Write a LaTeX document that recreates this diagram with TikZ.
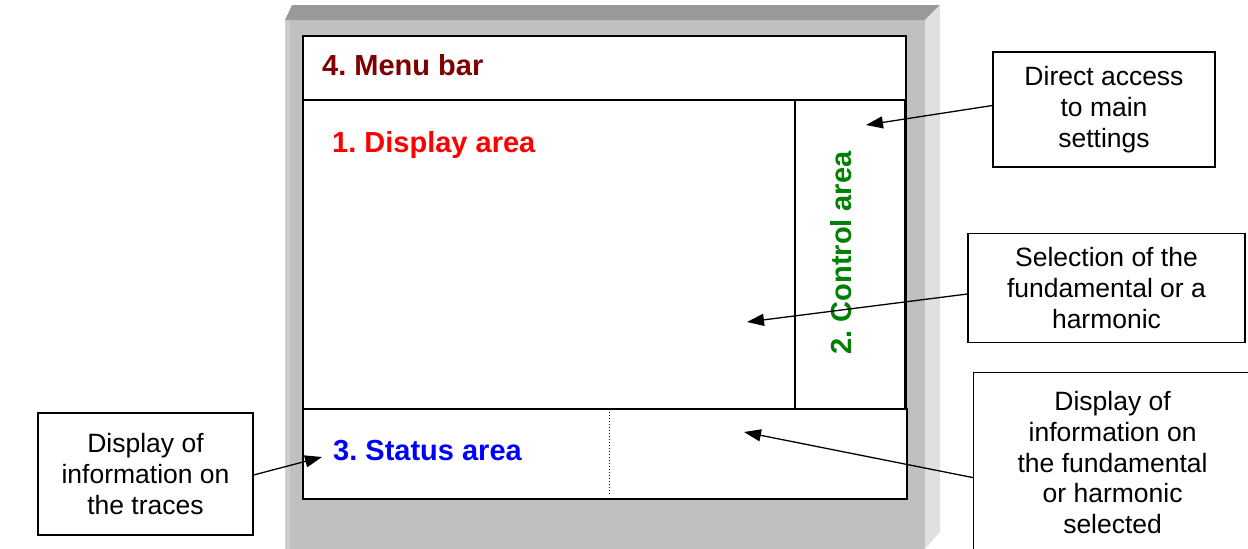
\documentclass[tikz,border=0pt]{standalone}
\usepackage{fontspec}
\setmainfont{Liberation Sans}
\usetikzlibrary{arrows.meta,positioning}
\definecolor{menured}{HTML}{800000}
\definecolor{ctrlgreen}{HTML}{008000}
\definecolor{facegray}{HTML}{C0C0C0}
\definecolor{bevelgray}{HTML}{999999}
\definecolor{sidegray}{HTML}{E0E0E0}
\definecolor{edgegray}{HTML}{CDCDCD}
\frenchspacing
\begin{document}
\begin{tikzpicture}[
        x=1pt, y=-1pt,
        area/.style={draw, line width=1.5pt, fill=white, inner sep=0pt, anchor=north west},
        arealabel/.style={font=\fontsize{29}{34}\selectfont\bfseries, inner sep=0pt},
        callout/.style={draw, line width=1.2pt, fill=white, align=center, inner sep=0pt,
            font=\fontsize{26.5}{30.8}\selectfont},
        pointer/.style={-{Triangle[length=17pt,width=12pt]}, line width=1.3pt},
    ]
    \useasboundingbox (0,0) rectangle (1248,549);
    % grey housing
    \fill[facegray] (285,20) rectangle (925,549);
    \fill[edgegray] (285,20) rectangle (290,549);
    \fill[bevelgray] (285,20) -- (292,5) -- (940,5) -- (925,20) -- cycle;
    \fill[sidegray] (925,20) -- (940,5) -- (940,532) -- (925,549) -- cycle;
    % screen areas
    \node[area, minimum width=603pt, minimum height=309pt](display) at (302,99){};
    \node[area, minimum width=110pt, minimum height=309pt](control) at (794,99){};
    \node[area, minimum width=603pt, minimum height=64pt](menu) at (302,35){};
    \node[area, minimum width=604pt, minimum height=90pt](status) at (302,408){};
    \coordinate (divtop) at (609,409);
    \coordinate (divbot) at (609,494);
    \draw[dotted, line width=1pt] (divtop) -- (divbot);
    \node[arealabel, text=menured, anchor=west](menulbl) at (322,65){4. Menu bar};
    \node[arealabel, text=red, anchor=west](displaylbl) at (332,145){1. Display area};
    \node[arealabel, text=ctrlgreen, rotate=90](controllbl) at (841,253){2. Control area};
    \node[arealabel, text=blue, anchor=west](statuslbl) at (333,451){3. Status area};
    % callouts
    \node[callout, minimum width=222pt, minimum height=115pt](access) at (1104,109.5)
        {Direct access\\to main\\settings};
    \node[callout, minimum width=277pt, minimum height=109pt](harmsel) at (1106.5,288)
        {Selection of the\\fundamental or a\\harmonic};
    \node[callout, minimum width=278pt, minimum height=180pt, anchor=north west](harminfo) at (973,372)
        {Display of\\information on\\the fundamental\\or harmonic\\selected};
    \node[callout, minimum width=215pt, minimum height=122pt](traces) at (145.5,474)
        {Display of\\information on\\the traces};
    \coordinate (accesstip) at (866,125);
    \coordinate (harmseltip) at (747,322);
    \coordinate (harminfotip) at (744,432);
    \coordinate (tracestip) at (322,457);
    \draw[pointer] ([yshift=4pt]access.west) -- (accesstip);
    \draw[pointer] ([yshift=-6pt]harmsel.west) -- (harmseltip);
    \draw[pointer] ([yshift=-15pt]harminfo.west) -- (harminfotip);
    \draw[pointer] ([yshift=-1pt]traces.east) -- (tracestip);
\end{tikzpicture}
\end{document}
